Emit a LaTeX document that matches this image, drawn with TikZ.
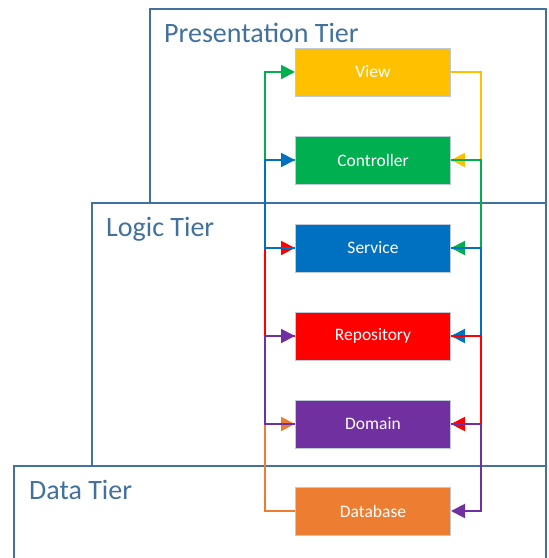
\documentclass[tikz,border=0pt]{standalone}
\usepackage{fontspec}
\setmainfont{Carlito}
\usetikzlibrary{arrows.meta}

\definecolor{tierline}{HTML}{41719C}
\definecolor{boxline}{HTML}{BDC9D7}
\definecolor{cView}{HTML}{FFC000}
\definecolor{cCtrl}{HTML}{00B050}
\definecolor{cService}{HTML}{0070C0}
\definecolor{cRepo}{HTML}{FF0000}
\definecolor{cDomain}{HTML}{7030A0}
\definecolor{cDb}{HTML}{ED7D31}

\tikzset{
	tier/.style = {draw=tierline, line width=2pt, fill=white},
	tierlabel/.style = {anchor=base west, inner sep=0pt, text=tierline, font=\fontsize{28}{31}\selectfont},
	layer/.style = {rectangle, draw=boxline, line width=1pt, text=white,
		minimum width=155pt, minimum height=48pt, font=\fontsize{17.5}{20}\selectfont},
	link/.style = {line width=2pt, -{Triangle[length=14pt,width=14pt]}}
}

\begin{document}
\begin{tikzpicture}[x=1pt,y=-1pt]
	\useasboundingbox (0,0) rectangle (549,558);
	\clip (0,0) rectangle (549,558);
	% tiers
	\draw[tier] (150,9) rectangle (546,203);
	\draw[tier] (92,203) rectangle (546,466);
	\draw[tier] (14,466) rectangle (546,580);
	\node (PT) at (164,42) [tierlabel] {Presentation Tier};
	\node (LT) at (106,236) [tierlabel] {Logic Tier};
	\node (DT) at (29,499) [tierlabel] {Data Tier};

	% layers
	\node (view)    at (373, 72) [layer, fill = cView]    {View};
	\node (ctrl)    at (373,160) [layer, fill = cCtrl]    {Controller};
	\node (service) at (373,248) [layer, fill = cService] {Service};
	\node (repo)    at (373,336) [layer, fill = cRepo]    {Repository};
	\node (domain)  at (373,424) [layer, fill = cDomain]  {Domain};
	\node (db)      at (373,511) [layer, fill = cDb]      {Database};

	% down the right side
	\draw[link, cView]    (view.east)    -- ++(30,0) |- (ctrl.east);
	\draw[link, cCtrl]    (ctrl.east)    -- ++(30,0) |- (service.east);
	\draw[link, cService] (service.east) -- ++(30,0) |- (repo.east);
	\draw[link, cRepo]    (repo.east)    -- ++(30,0) |- (domain.east);
	\draw[link, cDomain]  (domain.east)  -- ++(30,0) |- (db.east);
	% up the left side
	\draw[link, cCtrl]    (ctrl.west)    -- ++(-30,0) |- (view.west);
	\draw[link, cRepo]    (repo.west)    -- ++(-30,0) |- (service.west);
	\draw[link, cService] (service.west) -- ++(-30,0) |- (ctrl.west);
	\draw[link, cDb]      (db.west)      -- ++(-30,0) |- (domain.west);
	\draw[link, cDomain]  (domain.west)  -- ++(-30,0) |- (repo.west);
\end{tikzpicture}
\end{document}
